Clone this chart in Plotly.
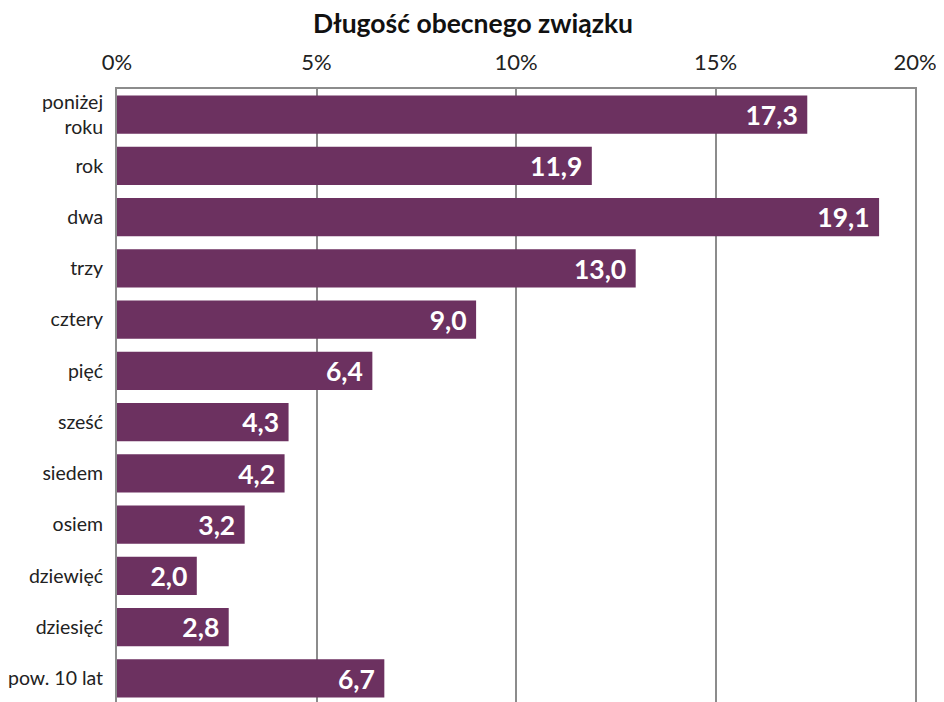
import plotly.graph_objects as go

categories = ["poniżej<br>roku", "rok", "dwa", "trzy", "cztery", "pięć", "sześć",
              "siedem", "osiem", "dziewięć", "dziesięć", "pow. 10 lat"]
values = [17.3, 11.9, 19.1, 13.0, 9.0, 6.4, 4.3, 4.2, 3.2, 2.0, 2.8, 6.7]
labels = [f"{v:.1f}".replace(".", ",") + "\u00a0" for v in values]
tick_vals = [0, 5, 10, 15, 20]
tick_text = ["0%", "5%", "10%", "15%", "20%"]

fig = go.Figure(go.Bar(
    x=values, y=categories, orientation="h",
    marker=dict(color="#6C3160", line=dict(width=0)),
    text=labels, textposition="inside", insidetextanchor="end",
    textfont=dict(family="Lato", size=27, color="white", weight="bold"),
    cliponaxis=False,
))

fig.update_layout(
    width=936, height=696,
    margin=dict(l=109, r=29, t=81, b=0),
    paper_bgcolor="white", plot_bgcolor="white",
    font=dict(family="Lato", color="#222222", size=19.5),
    title=dict(text="<b>Długość obecnego związku</b>", x=0.4968, xref="container",
               xanchor="center", y=0.977, yref="container", yanchor="middle",
               font=dict(family="Lato", size=26.5, color="#111111")),
    bargap=0.25,
    showlegend=False,
    uniformtext=dict(mode=False),
)
fig.update_xaxes(
    side="top", range=[0, 20], tickvals=tick_vals, ticktext=tick_text,
    showgrid=True, gridcolor="#8c8c8c", gridwidth=1.5,
    showline=True, linecolor="#8c8c8c", linewidth=2, mirror=True,
    ticks="", ticklabelstandoff=8, zeroline=False, automargin=False,
    tickfont=dict(size=22, color="#222222"),
)
fig.update_yaxes(
    autorange="reversed", showline=True, linecolor="#8c8c8c", linewidth=2,
    mirror=True, ticks="", ticklabelstandoff=8, showgrid=False, automargin=False,
    tickfont=dict(size=19.5, color="#222222"),
)

fig.write_html("out.html")
